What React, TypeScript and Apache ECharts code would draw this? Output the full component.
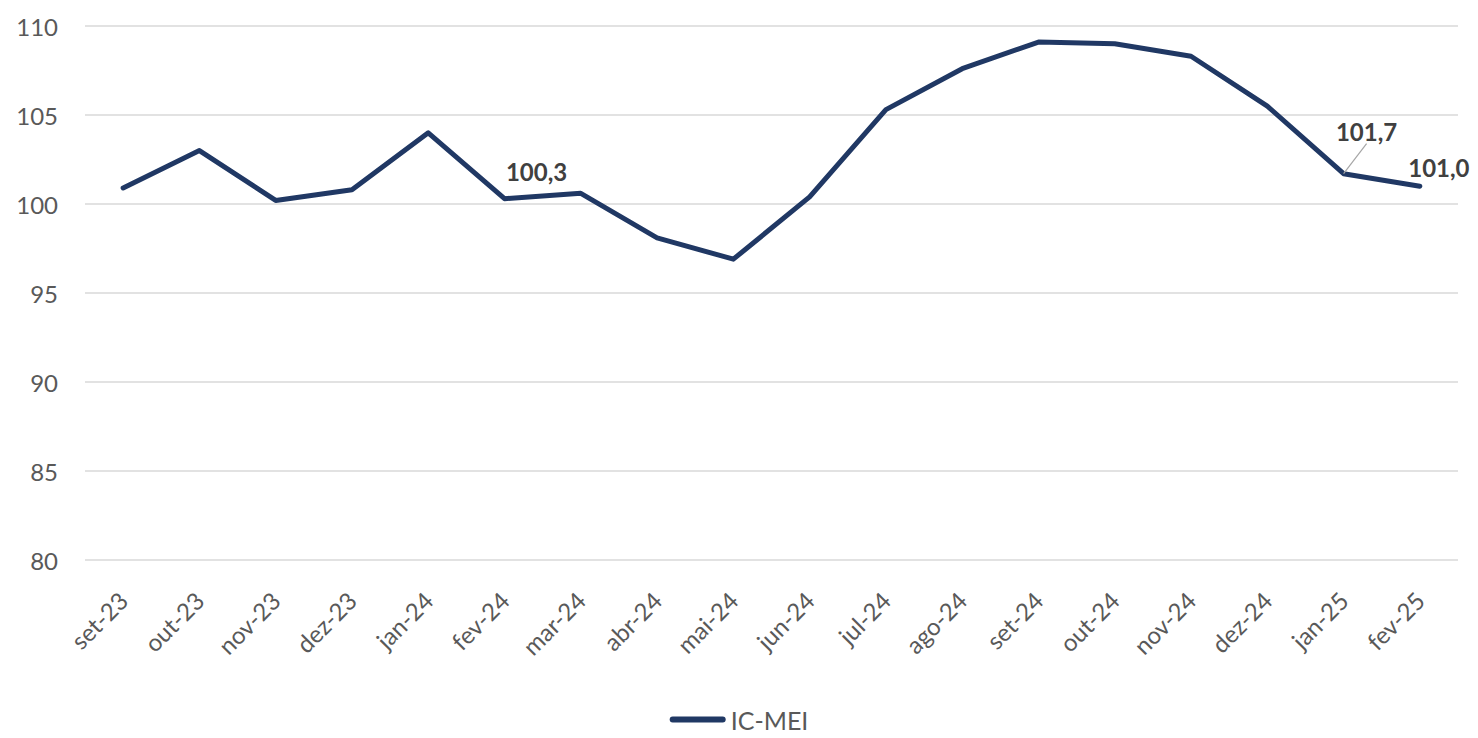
import React, { useEffect, useRef } from "react";
import * as echarts from "echarts";

const categories = [
  "set-23", "out-23", "nov-23", "dez-23", "jan-24", "fev-24", "mar-24", "abr-24", "mai-24",
  "jun-24", "jul-24", "ago-24", "set-24", "out-24", "nov-24", "dez-24", "jan-25", "fev-25",
];
const icMei = [
  100.9, 103.0, 100.2, 100.8, 104.0, 100.3, 100.6, 98.1, 96.9,
  100.4, 105.3, 107.6, 109.1, 109.0, 108.3, 105.5, 101.7, 101.0,
];
const labeledIndices = [5, 16, 17];
const seriesName = "IC-MEI";

const FONT = "Lato, 'Open Sans', sans-serif";
const LINE_COLOR = "#203864";

export default function App() {
  const ref = useRef<HTMLDivElement>(null);
  useEffect(() => {
    if (!ref.current) return;
    const chart = echarts.init(ref.current, undefined, { renderer: "svg" });
    const fmt = (v: number) => v.toFixed(1).replace(".", ",");
    const shifts: Record<number, { dx: number; dy: number }> = {
      5: { dx: 32, dy: -10 },
      16: { dx: 23, dy: -25 },
      17: { dx: 19, dy: -2 },
    };
    chart.setOption({
      animation: false,
      backgroundColor: "#ffffff",
      textStyle: { fontFamily: FONT },
      grid: { left: 85, right: 20, top: 26, bottom: 178 },
      legend: {
        bottom: 1,
        left: "center",
        itemWidth: 56,
        itemHeight: 12,
        itemGap: 4,
        textStyle: { fontSize: 25, color: "#595959", fontFamily: FONT },
        data: [
          {
            name: seriesName,
            icon: "path://M3,0 L53,0 A3,3 0 0 1 53,6 L3,6 A3,3 0 0 1 3,0 Z",
            itemStyle: { color: LINE_COLOR, opacity: 1 },
          },
        ],
      },
      xAxis: {
        type: "category",
        data: categories,
        boundaryGap: true,
        axisLine: { show: false },
        axisTick: { show: false },
        axisLabel: {
          rotate: 45,
          fontSize: 24,
          color: "#595959",
          margin: 36,
          interval: 0,
          fontFamily: FONT,
        },
      },
      yAxis: {
        type: "value",
        min: 80,
        max: 110,
        interval: 5,
        axisLine: { show: false },
        axisTick: { show: false },
        splitLine: { lineStyle: { color: "#d9d9d9", width: 1.5 } },
        axisLabel: { fontSize: 24, color: "#595959", margin: 27, fontFamily: FONT },
      },
      series: [
        {
          name: seriesName,
          type: "line",
          data: icMei.map((v, i) => {
            const item: any = { value: v };
            if (labeledIndices.includes(i)) {
              item.label = {
                show: true,
                formatter: (p: any) => fmt(p.value),
                fontSize: 24,
                fontWeight: "bold",
                color: "#404040",
                fontFamily: FONT,
                position: "top",
              };
              item.labelLine = { show: i === 16 };
            }
            return item;
          }),
          symbol: "circle",
          symbolSize: 0.01,
          showSymbol: true,
          lineStyle: { color: LINE_COLOR, width: 5, cap: "round", join: "round" },
          itemStyle: { color: LINE_COLOR },
          labelLine: {
            show: false,
            lineStyle: { color: "#a6a6a6", width: 1.2 },
          },
          labelLayout: (params: any) => shifts[params.dataIndex] || {},
        },
      ],
    });
    return () => chart.dispose();
  }, []);
  return (
    <div
      ref={ref}
      style={{ position: "fixed", left: 0, top: 0, width: 1478, height: 738 }}
    />
  );
}
